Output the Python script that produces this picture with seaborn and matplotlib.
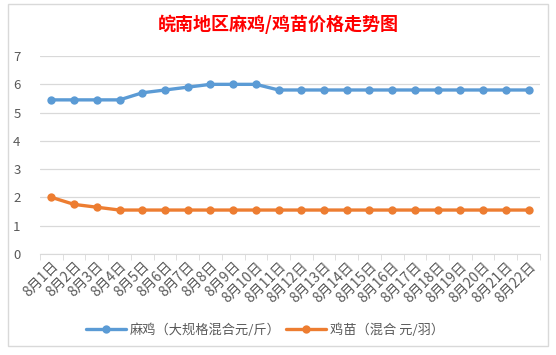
import matplotlib
matplotlib.use("Agg")
from matplotlib import pyplot as plt
import seaborn as sns
import pandas as pd

days = [f"8月{i}日" for i in range(1, 23)]
machicken = [5.45, 5.45, 5.45, 5.45, 5.7, 5.8, 5.9, 6.0, 6.0, 6.0, 5.8,
             5.8, 5.8, 5.8, 5.8, 5.8, 5.8, 5.8, 5.8, 5.8, 5.8, 5.8]
chick = [2.0, 1.75, 1.65, 1.55, 1.55, 1.55, 1.55, 1.55, 1.55, 1.55, 1.55,
         1.55, 1.55, 1.55, 1.55, 1.55, 1.55, 1.55, 1.55, 1.55, 1.55, 1.55]
series_names = ["麻鸡（大规格混合元/斤）", "鸡苗（混合 元/羽）"]

df = pd.concat([
    pd.DataFrame({"day": days, "price": machicken, "series": series_names[0]}),
    pd.DataFrame({"day": days, "price": chick, "series": series_names[1]}),
])

sns.set_style("white")
plt.rcParams["font.family"] = ["Noto Sans CJK SC", "DejaVu Sans"]

fig = plt.figure(figsize=(5.56, 3.55), dpi=100)
ax = fig.add_axes([0.072, 0.285, 0.899, 0.557])

sns.lineplot(data=df, x="day", y="price", hue="series",
             palette=["#5B9BD5", "#ED7D31"], marker="o", markersize=6,
             markeredgewidth=0, linewidth=2.4, ax=ax, sort=False)

ax.set_xlim(-0.5, len(days) - 0.5)
ax.set_ylim(0, 7)
ax.set_yticks(range(0, 8))
ax.yaxis.grid(True, color="#D9D9D9", linewidth=0.9)
ax.set_axisbelow(True)
for s in ["top", "right", "left"]:
    ax.spines[s].set_visible(False)
ax.spines["bottom"].set_color("#D9D9D9")
ax.set_xlabel("")
ax.set_ylabel("")
ax.set_xticks([i - 0.5 for i in range(len(days) + 1)], minor=True)
ax.tick_params(axis="x", which="minor", length=4, color="#D9D9D9", bottom=True)
ax.tick_params(axis="x", which="major", length=0, labelsize=10, labelcolor="#595959", pad=4)
ax.tick_params(axis="y", length=0, labelsize=9.5, labelcolor="#595959", pad=14)
plt.setp(ax.get_xticklabels(), rotation=45, ha="right", rotation_mode="anchor")

fig.text(0.5, 0.932, "皖南地区麻鸡/鸡苗价格走势图", ha="center", va="center",
         color="#FF0000", fontsize=13, fontweight="bold")

ax.legend(loc="center", bbox_to_anchor=(0.45, -0.385), ncol=2, frameon=False,
          fontsize=9.5, labelcolor="#595959", handlelength=3, columnspacing=0.4,
          handletextpad=0.3)

fig.patches.append(plt.Rectangle((0.014, 0.025), 0.972, 0.965, transform=fig.transFigure,
                                 fill=False, edgecolor="#D9D9D9", linewidth=1))

fig.savefig("out.png", dpi=100)
